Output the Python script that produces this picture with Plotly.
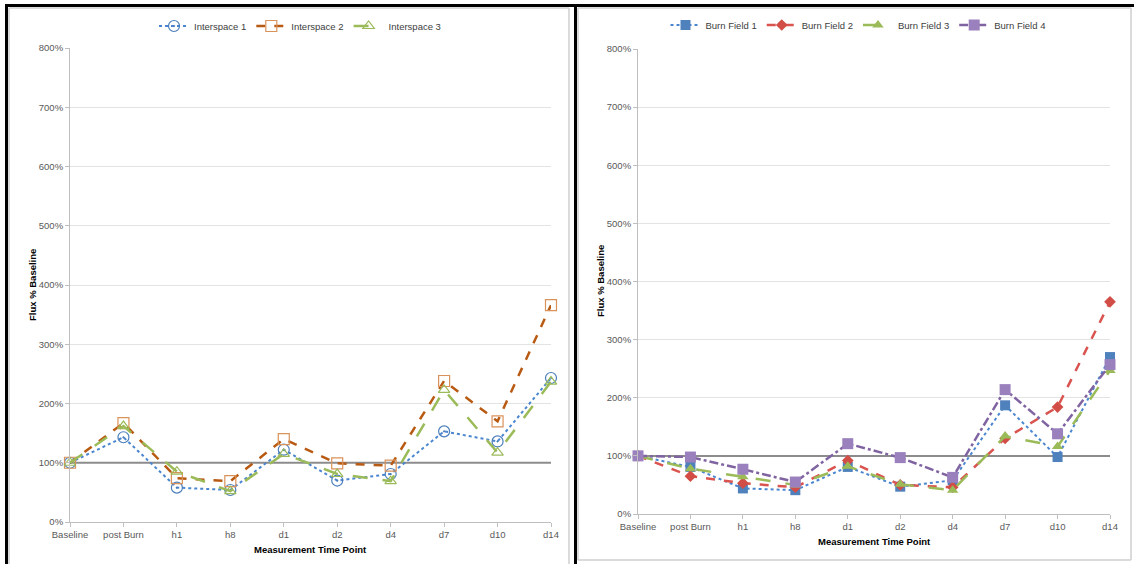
import plotly.graph_objects as go

W, H = 1134, 564

categories = ["Baseline", "post Burn", "h1", "h8", "d1", "d2", "d4", "d7", "d10", "d14"]

interspace_1 = [100, 143, 58, 54, 122, 70, 81, 153, 136, 243]
interspace_2 = [100, 167, 74, 69, 140, 99, 95, 238, 170, 366]
interspace_3 = [100, 162, 85, 52, 115, 81, 69, 223, 117, 237]

burn_field_1 = [100, 81, 44, 41, 81, 47, 58, 187, 98, 270]
burn_field_2 = [100, 65, 53, 46, 92, 50, 46, 130, 184, 365]
burn_field_3 = [100, 78, 64, 50, 82, 51, 41, 134, 116, 247]
burn_field_4 = [100, 98, 77, 55, 121, 97, 63, 214, 138, 257]

y_ticks = [0, 100, 200, 300, 400, 500, 600, 700, 800]
y_tick_text = [f"{v}%" for v in y_ticks]
reference_level = 100


def px_x(p):
    return p / W


def px_y(p):
    return 1 - p / H


fig = go.Figure()

left_series = [
    ("Interspace 1", interspace_1, dict(color="#4A86D0", width=2, dash="dot"),
     dict(symbol="circle-open-dot", size=11, color="#4A7EBB", line=dict(width=1.2, color="#4A7EBB"))),
    ("Interspace 2", interspace_2, dict(color="#B85A12", width=2.5, dash="dash"),
     dict(symbol="square-open", size=11, color="#D9925A", line=dict(width=1.2, color="#D9925A"))),
    ("Interspace 3", interspace_3, dict(color="#9BBB59", width=2.5, dash="longdash"),
     dict(symbol="triangle-up-open", size=10, color="#9BBB59", line=dict(width=1.2, color="#9BBB59"))),
]
for name, vals, ln, mk in left_series:
    fig.add_trace(go.Scatter(x=categories, y=vals, name=name, mode="lines+markers",
                             line=ln, marker=mk, xaxis="x", yaxis="y", legend="legend",
                             cliponaxis=False))

right_series = [
    ("Burn Field 1", burn_field_1, dict(color="#4A86D0", width=2, dash="dot"),
     dict(symbol="square", size=10, color="#4F81BD")),
    ("Burn Field 2", burn_field_2, dict(color="#D9534F", width=2.5, dash="dash"),
     dict(symbol="diamond", size=9, color="#D24D45")),
    ("Burn Field 3", burn_field_3, dict(color="#9BBB59", width=2.5, dash="longdash"),
     dict(symbol="triangle-up", size=10, color="#9BBB59")),
    ("Burn Field 4", burn_field_4, dict(color="#8064A2", width=2.5, dash="dashdot"),
     dict(symbol="square", size=11, color="#9A80BC")),
]
for name, vals, ln, mk in right_series:
    fig.add_trace(go.Scatter(x=categories, y=vals, name=name, mode="lines+markers",
                             line=ln, marker=mk, xaxis="x2", yaxis="y2", legend="legend2",
                             cliponaxis=False))

tick_font = dict(family="Liberation Sans", size=9.5, color="#595959")
axis_common = dict(showline=True, linecolor="#BFBFBF", linewidth=1, ticks="outside",
                   ticklen=4, tickcolor="#BFBFBF", tickfont=tick_font, zeroline=False,
                   automargin=False)

fig.update_layout(
    template="none",
    width=W, height=H,
    margin=dict(l=0, r=0, t=0, b=0, pad=0),
    paper_bgcolor="white", plot_bgcolor="white",
    font=dict(family="Liberation Sans", size=9, color="#404040"),
    xaxis=dict(domain=[px_x(70), px_x(551)], type="category", range=[0, 9],
               showgrid=False, anchor="y", **axis_common),
    yaxis=dict(domain=[px_y(522), px_y(48)], range=[0, 800], tickvals=y_ticks,
               ticktext=y_tick_text, showgrid=True, gridcolor="#E3E3E3", gridwidth=1,
               anchor="x", **axis_common),
    xaxis2=dict(domain=[px_x(638), px_x(1110)], type="category", range=[0, 9],
                showgrid=False, anchor="y2", **axis_common),
    yaxis2=dict(domain=[px_y(514), px_y(49)], range=[0, 800], tickvals=y_ticks,
                ticktext=y_tick_text, showgrid=True, gridcolor="#E3E3E3", gridwidth=1,
                anchor="x2", **axis_common),
    legend=dict(orientation="h", x=px_x(300), y=px_y(26), xanchor="center", yanchor="middle",
                font=dict(family="Liberation Sans", size=9.5, color="#404040"),
                bgcolor="rgba(0,0,0,0)", itemwidth=30),
    legend2=dict(orientation="h", x=px_x(858), y=px_y(25), xanchor="center", yanchor="middle",
                 font=dict(family="Liberation Sans", size=9.5, color="#404040"),
                 bgcolor="rgba(0,0,0,0)", itemwidth=30),
)

shapes = [
    dict(type="line", xref="x", yref="y", x0=0, x1=9, y0=reference_level, y1=reference_level,
         line=dict(color="#8C8C8C", width=2), layer="between"),
    dict(type="line", xref="x2", yref="y2", x0=0, x1=9, y0=reference_level, y1=reference_level,
         line=dict(color="#8C8C8C", width=2), layer="between"),
]
# panel frames
gray = "#CFCFCF"
for x0, y0, x1, y1 in [(9, 8, 569, 8), (569, 8, 569, 564), (9, 8, 9, 564),
                       (578, 8, 1131, 8), (578, 8, 578, 560), (1131, 8, 1131, 560),
                       (578, 560, 1131, 560)]:
    shapes.append(dict(type="line", xref="paper", yref="paper",
                       x0=px_x(x0), x1=px_x(x1), y0=px_y(y0), y1=px_y(y1),
                       line=dict(color=gray, width=1.5)))
for x0, y0, x1, y1 in [(5, 5.5, 1134, 5.5), (6.5, 4, 6.5, 564), (575.5, 4, 575.5, 564)]:
    shapes.append(dict(type="line", xref="paper", yref="paper",
                       x0=px_x(x0), x1=px_x(x1), y0=px_y(y0), y1=px_y(y1),
                       line=dict(color="black", width=3)))
fig.update_layout(shapes=shapes)

title_font = dict(family="Liberation Sans", size=9.5, color="#000000")
annotations = [
    dict(text="<b>Measurement Time Point</b>", x=px_x(310), y=px_y(549), xref="paper", yref="paper",
         showarrow=False, font=title_font, xanchor="center", yanchor="middle"),
    dict(text="<b>Flux % Baseline</b>", x=px_x(32), y=px_y(285), xref="paper", yref="paper",
         showarrow=False, font=title_font, textangle=-90, xanchor="center", yanchor="middle"),
    dict(text="<b>Measurement Time Point</b>", x=px_x(874), y=px_y(541), xref="paper", yref="paper",
         showarrow=False, font=title_font, xanchor="center", yanchor="middle"),
    dict(text="<b>Flux % Baseline</b>", x=px_x(600), y=px_y(281), xref="paper", yref="paper",
         showarrow=False, font=title_font, textangle=-90, xanchor="center", yanchor="middle"),
]
fig.update_layout(annotations=annotations)

fig.write_html("out.html")
